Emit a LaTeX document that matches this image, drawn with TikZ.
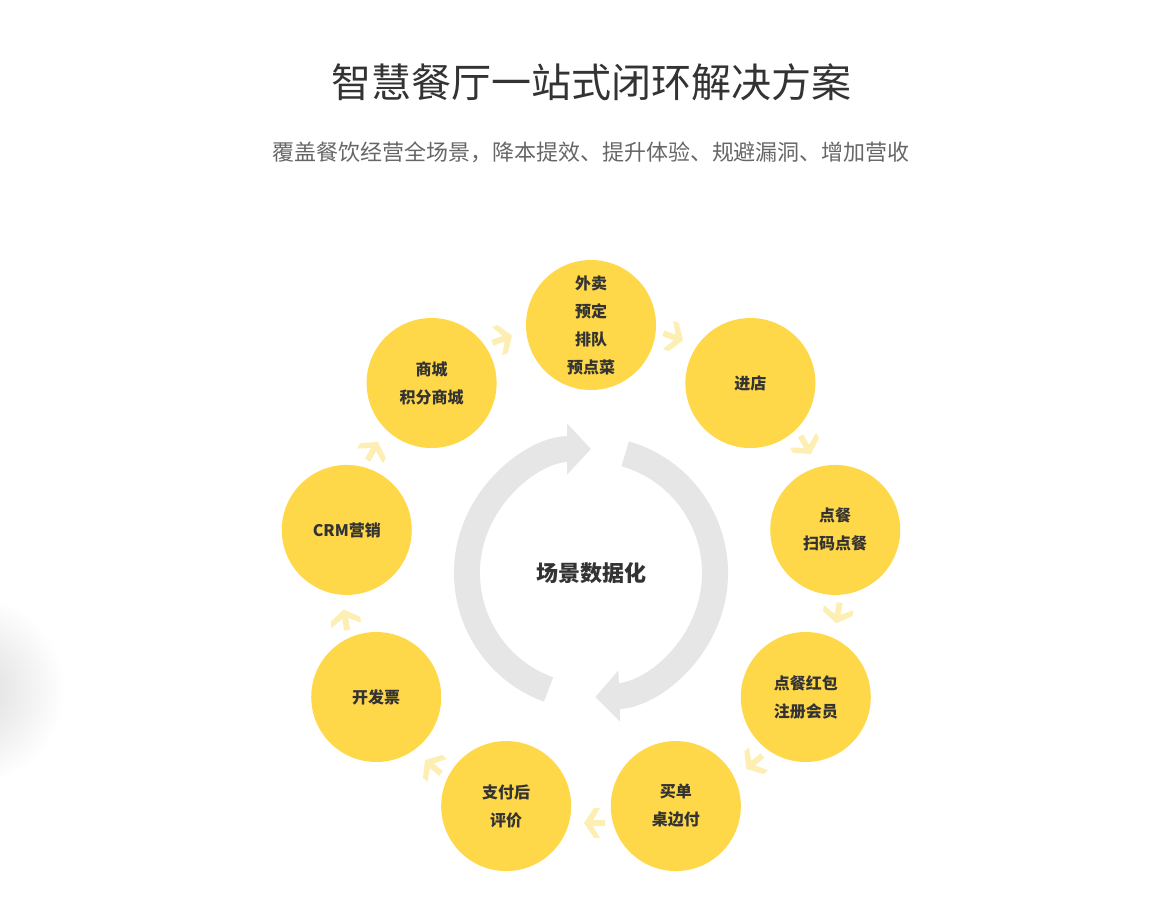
\documentclass[tikz,border=0pt]{standalone}
\usepackage{fontspec}
\setmainfont{Noto Sans CJK SC}
\usetikzlibrary{arrows.meta,calc}
\definecolor{cy}{HTML}{FFD84A}
\definecolor{cv}{HTML}{FDEEB4}
\definecolor{ring}{HTML}{E6E6E6}
\definecolor{tx}{HTML}{333333}
\tikzset{
  bub/.style={circle,fill=cy,minimum size=130pt,inner sep=0pt,align=center,text=tx,font=\fontsize{16}{28}\selectfont\bfseries},
  chev/.style={fill=cv},
  ringarc/.style={draw=ring,line width=26pt,-{Triangle[width=50pt,length=24pt]}}
}
\begin{document}
\begin{tikzpicture}[x=1pt,y=1pt]
\useasboundingbox (0,0) rectangle (1171,-909);
\begin{scope}
\clip (0,0) rectangle (1171,-909);
\shade[inner color=black!14,outer color=white] (-30,-690) circle (95);
\end{scope}
\node[text=tx,font=\fontsize{40}{48}\selectfont] (title) at (591,-82) {智慧餐厅一站式闭环解决方案};
\node[text=black!60,font=\fontsize{22}{26}\selectfont] (sub) at (591,-152) {覆盖餐饮经营全场景，降本提效、提升体验、规避漏洞、增加营收};
\coordinate (o) at (591,-573);
\draw[ringarc] ($(o)+(-110:124pt)$) arc[start angle=-110,end angle=-270,radius=124pt];
\draw[ringarc] ($(o)+(74:124pt)$) arc[start angle=74,end angle=-88,radius=124pt];
\node[text=tx,font=\fontsize{22}{26}\selectfont\bfseries] (ctr) at (o) {场景数据化};
\node[bub] (c1) at ($(o)+(90:248pt)$) {外卖\\预定\\排队\\预点菜};
\node[bub] (c2) at ($(o)+(50:248pt)$) {进店};
\node[bub] (c3) at ($(o)+(10:248pt)$) {点餐\\扫码点餐};
\node[bub] (c4) at ($(o)+(-30:248pt)$) {点餐红包\\注册会员};
\node[bub] (c5) at ($(o)+(-70:248pt)$) {买单\\桌边付};
\node[bub] (c6) at ($(o)+(-110:248pt)$) {支付后\\评价};
\node[bub] (c7) at ($(o)+(-150:248pt)$) {开发票};
\node[bub] (c8) at ($(o)+(170:248pt)$) {CRM营销};
\node[bub] (c9) at ($(o)+(130:248pt)$) {商城\\积分商城};
\foreach \a in {110,70,30,-10,-50,-90,-130,-170,150}{
  \pgfmathsetmacro\r{\a-90}
  \fill[chev,shift={($(o)+(\a:250pt)$)},rotate=\r]
    (-9,15) -- (-3,15) -- (7,0) -- (-3,-15) -- (-9,-15) -- (-2,-3) -- (-14,-3) -- (-14,3) -- (-2,3) -- cycle;
}
\end{tikzpicture}
\end{document}
